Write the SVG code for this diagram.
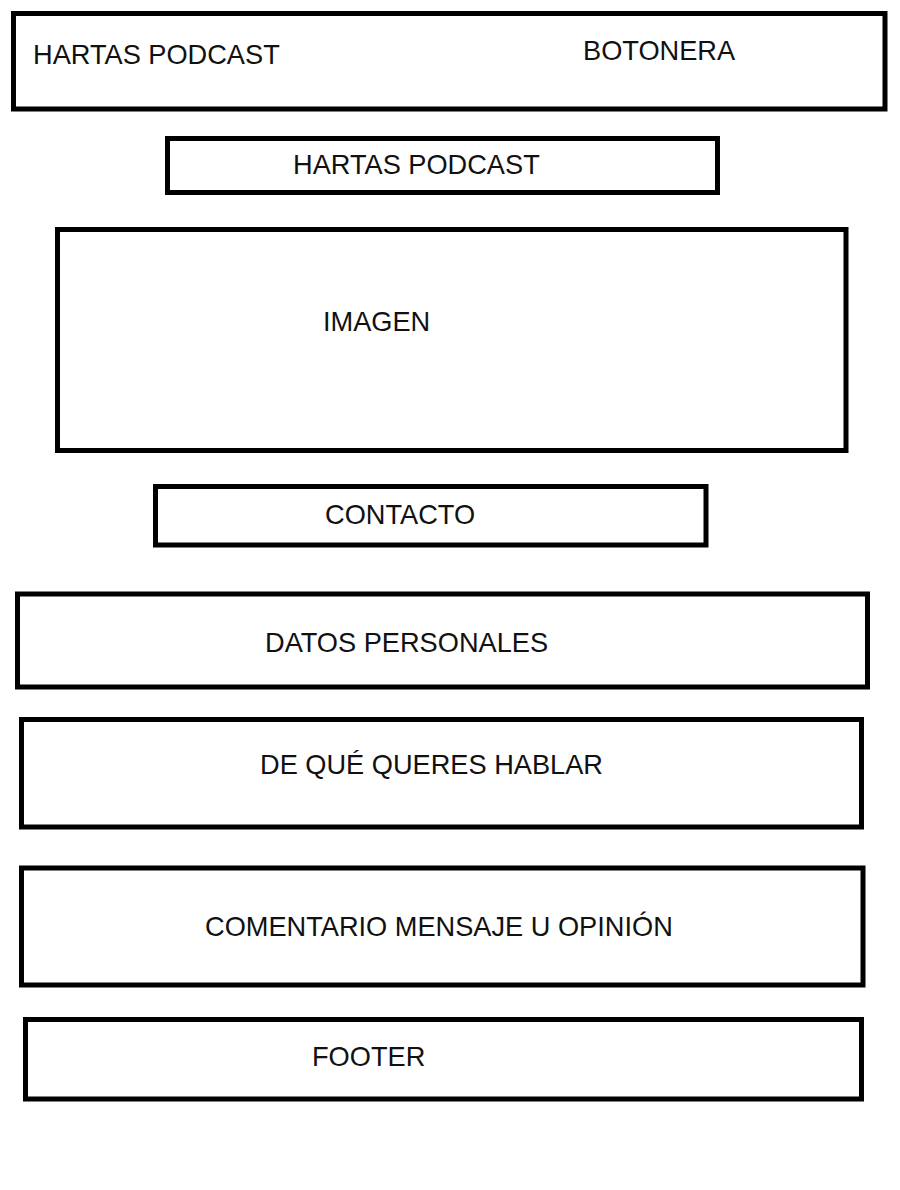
<svg xmlns="http://www.w3.org/2000/svg" width="900" height="1190" viewBox="0 0 900 1190">
<style>
.box{fill:#fff;stroke:#000;stroke-width:5}
.lbl{font-family:"Liberation Sans",Arial,sans-serif;font-size:27.2px;fill:#111}
</style>
<rect x="0" y="0" width="900" height="1190" fill="#fff"/>
<g id="header">
<rect class="box" x="13.5" y="13.5" width="871.5" height="95.5"/>
<text class="lbl" x="33" y="64">HARTAS PODCAST</text>
<text class="lbl" x="583" y="60">BOTONERA</text>
</g>
<g id="title">
<rect class="box" x="167.5" y="138.5" width="550" height="54"/>
<text class="lbl" x="293" y="174">HARTAS PODCAST</text>
</g>
<g id="imagen">
<rect class="box" x="57.5" y="229.5" width="788.5" height="221"/>
<text class="lbl" x="323" y="331">IMAGEN</text>
</g>
<g id="contacto">
<rect class="box" x="155.5" y="486.5" width="550.5" height="58.5"/>
<text class="lbl" x="325" y="524">CONTACTO</text>
</g>
<g id="datos">
<rect class="box" x="17.5" y="594" width="850" height="93"/>
<text class="lbl" x="265" y="652">DATOS PERSONALES</text>
</g>
<g id="hablar">
<rect class="box" x="21.5" y="719.5" width="840" height="107.5"/>
<text class="lbl" x="260" y="774">DE QUÉ QUERES HABLAR</text>
</g>
<g id="comentario">
<rect class="box" x="21.5" y="868" width="841.5" height="117"/>
<text class="lbl" x="205" y="936">COMENTARIO MENSAJE U OPINIÓN</text>
</g>
<g id="footer">
<rect class="box" x="25.5" y="1019.5" width="836" height="79.5"/>
<text class="lbl" x="312" y="1066">FOOTER</text>
</g>
<g id="connectors"></g>
</svg>
